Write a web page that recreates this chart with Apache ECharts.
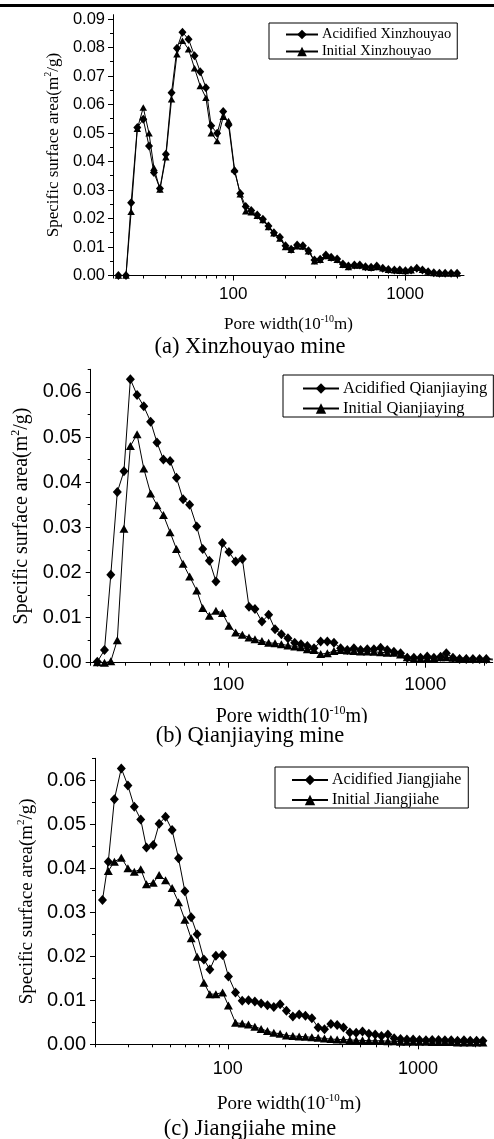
<!DOCTYPE html>
<html>
<head>
<meta charset="utf-8">
<script src="https://cdn.jsdelivr.net/npm/echarts@6/dist/echarts.min.js"></script>
<style>
html,body{margin:0;padding:0;background:#fff;}
#main{width:494px;height:1139px;}
</style>
</head>
<body>
<div id="main"></div>
<script>
// ---------- DATA ----------
// (a) Xinzhouyao
const xA = [21.5,23.8,25.5,27.7,30.0,32.4,34.6,37.5,40.6,43.8,47.1,50.7,55.0,59.6,64.3,69.4,74.5,80.7,87.5,94.0,
  101.8,109.9,118.3,127.3,138,148.9,160.4,172.5,186.9,201.5,217.3,235.5,254.3,274,297,320.6,346,371.5,402.4,434.5,
  468,507,545,588,634,684,741,799,866,931,1004,1083,1169,1261,1361,1468,1583,1709,1851,2005];
const acidA = [0,0,0.0255,0.0519,0.0548,0.0454,0.0361,0.0305,0.0425,0.0641,0.0797,0.0853,0.0829,0.0771,0.0715,0.0659,0.0525,0.0499,0.0575,0.0528,
  0.0367,0.0288,0.0242,0.0228,0.0212,0.0197,0.0174,0.0150,0.0134,0.0104,0.0092,0.0107,0.0104,0.0087,0.0054,0.0057,0.0072,0.0064,0.0058,0.0040,
  0.0033,0.0037,0.0037,0.0031,0.0029,0.0033,0.0025,0.0021,0.0019,0.0019,0.0017,0.0019,0.0025,0.0019,0.0013,0.0010,0.0008,0.0008,0.0008,0.0008];
const initA = [0,0,0.0224,0.0515,0.0589,0.0499,0.0378,0.0302,0.0415,0.0618,0.0776,0.0824,0.0794,0.0727,0.0665,0.0624,0.0499,0.0472,0.0557,0.0542,
  0.0373,0.0285,0.0225,0.0222,0.0210,0.0195,0.0170,0.0148,0.0130,0.0100,0.0090,0.0103,0.0102,0.0085,0.0050,0.0055,0.0068,0.0062,0.0055,0.0038,
  0.0030,0.0035,0.0035,0.0030,0.0027,0.0030,0.0025,0.0020,0.0018,0.0017,0.0016,0.0018,0.0027,0.0020,0.0014,0.0009,0.0007,0.0007,0.0007,0.0007];

// (b) Qianjiaying
const xB = [21.6,23.5,25.3,27.3,29.5,31.8,34.4,37.2,40.3,43.4,46.8,50.6,54.5,58.9,63.6,69.1,74.1,80.1,86.5,93.3,
  100.7,108.9,117.8,127.3,136.5,148.1,160.2,172.6,185.9,200.8,217.3,233.7,251.9,272.3,294.3,318.2,343.8,371.7,401.9,434.2,
  469.5,507.6,548.6,593.2,641.2,693,749,810,875,946,1023,1106,1196,1279,1382,1494,1615,1746,1888,2041,2204];
const acidB = [0.0002,0.0028,0.0195,0.0378,0.0424,0.0628,0.0593,0.0568,0.0534,0.0488,0.0450,0.0447,0.0410,0.0362,0.0350,0.0302,0.0252,0.0226,0.0180,0.0265,
  0.0245,0.0224,0.0230,0.0124,0.0119,0.0091,0.0106,0.0074,0.0063,0.0054,0.0044,0.0041,0.0037,0.0032,0.0047,0.0047,0.0044,0.0032,0.0028,0.0032,
  0.0028,0.0030,0.0030,0.0033,0.0028,0.0024,0.0021,0.0011,0.0011,0.0011,0.0014,0.0011,0.0013,0.0021,0.0011,0.0008,0.0008,0.0008,0.0008,0.0008,0.0006];
const initB = [0.0001,0,0.0003,0.0050,0.0297,0.0480,0.0506,0.0430,0.0375,0.0349,0.0327,0.0289,0.0252,0.0219,0.0191,0.0160,0.0121,0.0104,0.0115,0.0110,
  0.0082,0.0067,0.0062,0.0056,0.0052,0.0048,0.0044,0.0043,0.0041,0.0038,0.0036,0.0034,0.0030,0.0028,0.0019,0.0021,0.0026,0.0028,0.0027,0.0026,
  0.0025,0.0025,0.0024,0.0023,0.0022,0.0022,0.0018,0.0012,0.0008,0.0009,0.0010,0.0010,0.0012,0.0012,0.0011,0.0010,0.0010,0.0009,0.0009,0.0009,0.0008];

// (c) Jiangjiahe
const xC = [21.9,23.5,25.3,27.5,29.8,32.2,34.8,37.3,40.5,43.5,47.0,50.9,55.0,59.4,64.1,68.9,74.8,80.4,86.5,93.8,
  100.7,109.7,119,128.4,138.7,149.6,161.6,174.5,188.4,203.3,219.8,237.3,256,276.7,298.6,322.4,348.4,376,405.9,438.5,
  473.4,511,552,596,643,695,750,810,875,944,1019,1102,1189,1284,1387,1497,1616,1747,1885,2035,2198];
const acidC = [0.0328,0.0415,0.0557,0.0627,0.0588,0.0540,0.0511,0.0447,0.0453,0.0501,0.0517,0.0487,0.0423,0.0348,0.0289,0.0250,0.0193,0.0170,0.0201,0.0203,
  0.0154,0.0118,0.0099,0.0100,0.0097,0.0093,0.0089,0.0085,0.0091,0.0076,0.0063,0.0068,0.0065,0.0059,0.0038,0.0034,0.0046,0.0044,0.0038,0.0027,
  0.0026,0.0029,0.0024,0.0022,0.0019,0.0022,0.0014,0.0012,0.0011,0.0011,0.0010,0.0009,0.0010,0.0010,0.0009,0.0009,0.0008,0.0009,0.0008,0.0008,0.0008];
const initC = [null,0.0394,0.0415,0.0424,0.0400,0.0392,0.0398,0.0364,0.0367,0.0385,0.0373,0.0355,0.0323,0.0283,0.0241,0.0199,0.0140,0.0114,0.0114,0.0118,
  0.0088,0.0049,0.0047,0.0045,0.0040,0.0035,0.0030,0.0026,0.0024,0.0020,0.0019,0.0018,0.0017,0.0016,0.0015,0.0013,0.0012,0.0011,0.0011,0.0010,
  0.0009,0.0009,0.0008,0.0008,0.0008,0.0007,0.0007,0.0006,0.0006,0.0006,0.0006,0.0006,0.0005,0.0005,0.0005,0.0005,0.0004,0.0004,0.0004,0.0004,0.0004];

// tick values
const xMajor = [100, 1000];
const xMinor = [20,30,40,50,60,70,80,90,200,300,400,500,600,700,800,900,2000];
const yMajorA = [0,0.01,0.02,0.03,0.04,0.05,0.06,0.07,0.08,0.09];
const yMinorA = [0.005,0.015,0.025,0.035,0.045,0.055,0.065,0.075,0.085];
const yMajorBC = [0,0.01,0.02,0.03,0.04,0.05,0.06];
const yMinorBC = [0.005,0.015,0.025,0.035,0.045,0.055,0.065];

const legendA = ['Acidified Xinzhouyao','Initial Xinzhouyao'];
const legendB = ['Acidified Qianjiaying','Initial Qianjiaying'];
const legendC = ['Acidified Jiangjiahe','Initial Jiangjiahe'];
const captions = ['(a) Xinzhouyao mine','(b) Qianjiaying mine','(c) Jiangjiahe mine'];

// ---------- CHART ----------
const SERIF = '"Liberation Serif","Times New Roman",serif';
const SANS = '"Liberation Sans",Arial,sans-serif';
const pairs = (xs, ys) => xs.map((x,i)=>[x, ys[i]]).filter(p=>p[1]!==null && p[1]!==undefined);

const panels = [
  {grid:{left:113, top:14.7, width:351, height:260.8}, ymax:0.0915, yMaj:yMajorA, yMin:yMinorA,
   tickFont:16.5, xFont:17, nameFont:17, xNameGap:39, yNameGap:50, xMargin:10, yMargin:8,
   dia:[8,9], tri:[7.5,6.5], legend:legendA, acid:pairs(xA,acidA), init:pairs(xA,initA),
   leg:{left:269, top:23, fontSize:14.5, padding:[4,6,0,16], itemGap:2, itemWidth:32, itemHeight:12}},
  {grid:{left:90.7, top:369.3, width:402, height:293.4}, ymax:0.065, yMaj:yMajorBC, yMin:yMinorBC,
   tickFont:20, xFont:19, nameFont:20, xNameGap:42, yNameGap:56, xMargin:13, yMargin:9,
   dia:[9,10], tri:[9,8], legend:legendB, acid:pairs(xB,acidB), init:pairs(xB,initB),
   leg:{left:283, top:375, fontSize:16.5, padding:[5,6,0,19], itemGap:3, itemWidth:36, itemHeight:13}},
  {grid:{left:95, top:758.3, width:388, height:286}, ymax:0.065, yMaj:yMajorBC, yMin:yMinorBC,
   tickFont:20, xFont:18, nameFont:19, xNameGap:48, yNameGap:56, xMargin:16, yMargin:9,
   dia:[9,10], tri:[9,8], legend:legendC, acid:pairs(xC,acidC), init:pairs(xC,initC),
   leg:{left:275, top:767, fontSize:16, padding:[5,7,0,16], itemGap:4, itemWidth:36, itemHeight:13}}
];

const grid=[], xAxis=[], yAxis=[], series=[], legend=[];
panels.forEach((p, i) => {
  grid.push(Object.assign({containLabel:false}, p.grid));
  // major x
  xAxis.push({
    type:'log', logBase:10, gridIndex:i, min:20, max:2200, position:'bottom',
    axisLine:{show:true, onZero:false, lineStyle:{color:'#000', width:1}},
    axisTick:{show:true, customValues:xMajor, length:5, lineStyle:{color:'#000', width:1}},
    axisLabel:{show:true, customValues:xMajor, color:'#000', fontFamily:SANS, fontSize:p.xFont, margin:p.xMargin,
      formatter:v=>String(Math.round(v))},
    splitLine:{show:false}, minorTick:{show:false},
    name:'{t|Pore width(10}{s|-10}{t|m)}', nameLocation:'middle', nameGap:p.xNameGap,
    nameTextStyle:{color:'#000', rich:{
      t:{fontFamily:SERIF, fontSize:p.nameFont, color:'#000', lineHeight:p.nameFont+2, verticalAlign:'bottom'},
      s:{fontFamily:SERIF, fontSize:Math.round(p.nameFont*0.6), color:'#000', verticalAlign:'top', lineHeight:p.nameFont*0.6}}}
  });
  // minor x
  xAxis.push({
    type:'log', logBase:10, gridIndex:i, min:20, max:2200, position:'bottom',
    axisLine:{show:false}, axisLabel:{show:false}, splitLine:{show:false},
    axisTick:{show:true, customValues:xMinor, length:3, lineStyle:{color:'#000', width:1}}
  });
  // major y
  yAxis.push({
    type:'value', gridIndex:i, min:0, max:p.ymax, position:'left',
    axisLine:{show:true, onZero:false, lineStyle:{color:'#000', width:1}},
    axisTick:{show:true, customValues:p.yMaj, length:5, lineStyle:{color:'#000', width:1}},
    axisLabel:{show:true, customValues:p.yMaj, color:'#000', fontFamily:SANS, fontSize:p.tickFont, margin:p.yMargin,
      formatter:v=>v.toFixed(2)},
    splitLine:{show:false},
    name:'{t|Specific surface area(m}{s|2}{t|/g)}', nameLocation:'middle', nameGap:p.yNameGap, nameRotate:90,
    nameTextStyle:{color:'#000', rich:{
      t:{fontFamily:SERIF, fontSize:p.nameFont, color:'#000', lineHeight:p.nameFont+2, verticalAlign:'bottom'},
      s:{fontFamily:SERIF, fontSize:Math.round(p.nameFont*0.6), color:'#000', verticalAlign:'top', lineHeight:p.nameFont*0.6}}}
  });
  // minor y
  yAxis.push({
    type:'value', gridIndex:i, min:0, max:p.ymax, position:'left',
    axisLine:{show:false}, axisLabel:{show:false}, splitLine:{show:false},
    axisTick:{show:true, customValues:p.yMin, length:3, lineStyle:{color:'#000', width:1}}
  });
  series.push({
    name:p.legend[1], type:'line', xAxisIndex:2*i, yAxisIndex:2*i, data:p.init,
    symbol:'triangle', symbolSize:p.tri, showAllSymbol:true,
    lineStyle:{color:'#000', width:1}, itemStyle:{color:'#000'}, z:2
  });
  series.push({
    name:p.legend[0], type:'line', xAxisIndex:2*i, yAxisIndex:2*i, data:p.acid,
    symbol:'diamond', symbolSize:p.dia, showAllSymbol:true,
    lineStyle:{color:'#000', width:1}, itemStyle:{color:'#000'}, z:3
  });
  legend.push({
    data:[p.legend[0], p.legend[1]], orient:'vertical', left:p.leg.left, top:p.leg.top,
    backgroundColor:'#fff', borderColor:'#000', borderWidth:1, borderRadius:0,
    padding:p.leg.padding, itemGap:p.leg.itemGap, itemWidth:p.leg.itemWidth, itemHeight:p.leg.itemHeight,
    textStyle:{fontFamily:SERIF, fontSize:p.leg.fontSize, color:'#000', padding:[0,0,0,-1]},
    selectedMode:false
  });
});

const chart = echarts.init(document.getElementById('main'), null, {renderer:'canvas'});
chart.setOption({
  animation:false,
  backgroundColor:'#fff',
  grid, xAxis, yAxis, series, legend,
  graphic:[
    {type:'rect', z:100, shape:{x:0, y:4, width:494, height:3}, style:{fill:'#000'}},
    {type:'text', z:100, x:250, y:347, style:{text:captions[0], font:'22.5px '+SERIF, fill:'#000', textAlign:'center', textVerticalAlign:'middle'}},
    {type:'rect', z:100, shape:{x:130, y:723, width:250, height:26}, style:{fill:'#fff'}},
    {type:'text', z:101, x:250, y:736, style:{text:captions[1], font:'22.5px '+SERIF, fill:'#000', textAlign:'center', textVerticalAlign:'middle'}},
    {type:'text', z:100, x:250, y:1129, style:{text:captions[2], font:'22.5px '+SERIF, fill:'#000', textAlign:'center', textVerticalAlign:'middle'}}
  ]
});
</script>
</body>
</html>
